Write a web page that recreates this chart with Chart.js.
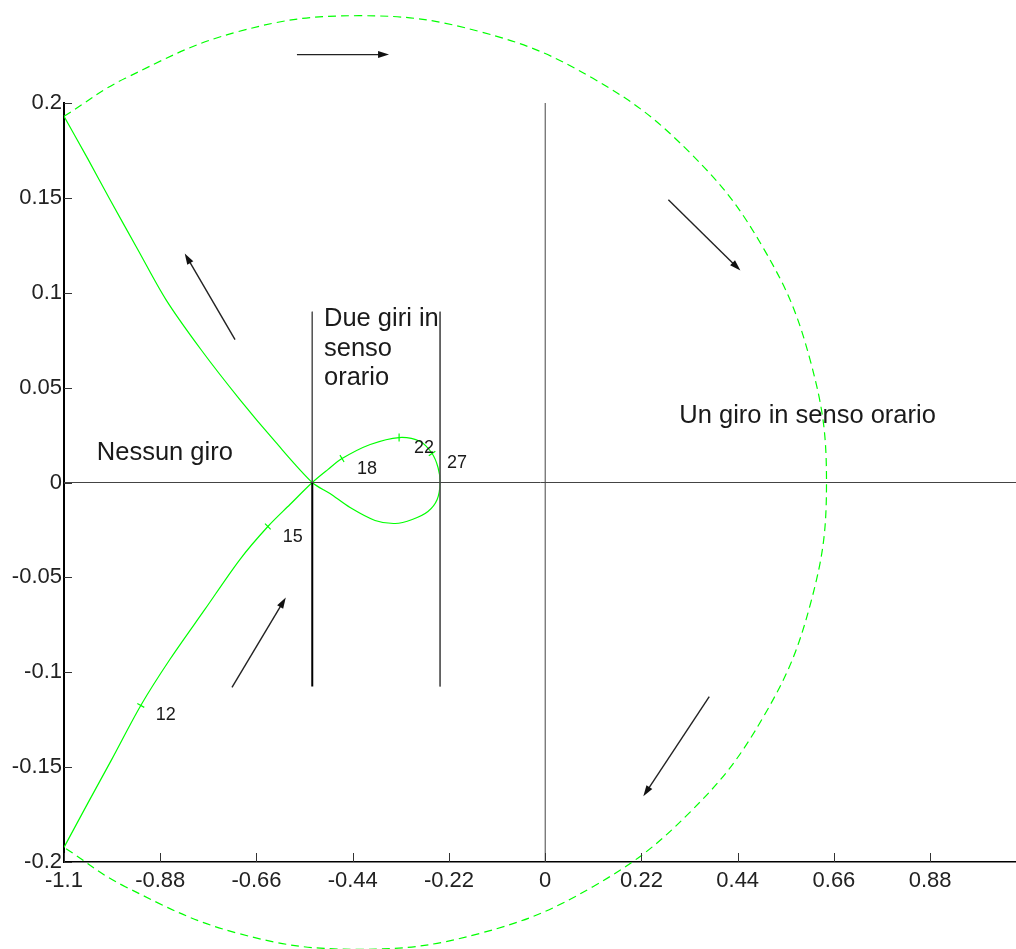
<!DOCTYPE html>
<html>
<head>
<meta charset="utf-8">
<title>Diagramma di Nyquist</title>
<script src="https://cdn.jsdelivr.net/npm/chart.js@4.4.1/dist/chart.umd.min.js"></script>
<style>
  html, body { margin: 0; padding: 0; background: #fff; overflow: hidden; width: 1016px; height: 949px; }
  canvas { display: block; }
</style>
</head>
<body>
<!-- canvas slightly wider than the window: Chart.js keeps a few px on the right, the plot runs to the edge in the original -->
<canvas id="chart" width="1022" height="949"></canvas>
<script>
// --- Axis ticks ---
const xTicks = [-1.1, -0.88, -0.66, -0.44, -0.22, 0, 0.22, 0.44, 0.66, 0.88];
const yTicks = [0.2, 0.15, 0.1, 0.05, 0, -0.05, -0.1, -0.15, -0.2];
const xMin = -1.1, xMax = 1.078, yMin = -0.2, yMax = 0.2;

// --- Nyquist curve (lower branch -> loop -> upper branch) ---
const nyqX = [-1.1, -1.0458, -0.9908, -0.9245, -0.8581, -0.778, -0.698, -0.634, -0.5835, -0.5325,
  -0.497, -0.4645, -0.400, -0.334, -0.286, -0.2586, -0.245, -0.2403, -0.247, -0.268, -0.304, -0.343, -0.389, -0.446, -0.492, -0.5325,
  -0.6156, -0.698, -0.787, -0.867, -0.9314, -0.9947, -1.0458, -1.1];
const nyqY = [-0.1923, -0.1691, -0.1459, -0.1175, -0.0933, -0.0669, -0.0406, -0.0232, -0.0116, 0,
  0.0068, 0.0126, 0.0200, 0.0237, 0.0216, 0.0153, 0.0079, 0, -0.0090, -0.0153, -0.0195, -0.0216, -0.0200, -0.0132, -0.0058, 0,
  0.0211, 0.0437, 0.0701, 0.0964, 0.1228, 0.149, 0.1707, 0.193];

// frequency marks on the curve
const markX = [-0.9245, -0.634, -0.4645, -0.334, -0.2586];
const markY = [-0.1175, -0.0232, 0.0126, 0.0237, 0.0153];
const markLabels = ['12', '15', '18', '22', '27'];

// --- closing arc at infinity (dashed) ---
const arcX = [-1.1, -0.960, -0.702, -0.4256, -0.149, 0.109, 0.330, 0.500, 0.6066, 0.643,
  0.6066, 0.500, 0.330, 0.109, -0.149, -0.4256, -0.702, -0.960, -1.1];
const arcY = [0.193, 0.213, 0.2376, 0.246, 0.2376, 0.213, 0.174, 0.123, 0.0637, 0,
  -0.0637, -0.123, -0.174, -0.213, -0.2376, -0.246, -0.2376, -0.213, -0.1923];

// --- reference lines ---
const hAxisX = [-1.1, 1.078];            // y = 0
const vAxisY = [-0.2, 0.2];              // x = 0
const leftBoundX = -0.5325, rightBoundX = -0.2403;
const boundTopY = 0.090, boundBottomY = -0.1075;

// --- arrows (from -> to) ---
const arrowFromX = [-0.5675, 0.2815, 0.375, -0.709, -0.716];
const arrowFromY = [0.2255, 0.149, -0.1128, 0.0753, -0.108];
const arrowToX = [-0.357, 0.4462, 0.2243, -0.824, -0.593];
const arrowToY = [0.2255, 0.1117, -0.1654, 0.1207, -0.0606];

// --- region notes (baseline position) ---
const noteTexts = ['Nessun giro', 'Un giro in senso orario', 'Due giri in', 'senso', 'orario'];
const noteX = [-1.025, 0.3066, -0.5057, -0.5057, -0.5057];
const noteY = [0.0116, 0.0316, 0.0824, 0.0669, 0.0516];

const FONT = 'Liberation Sans, Arial, sans-serif';
const GREEN = '#00ff00';

const pts = (xs, ys) => xs.map((v, i) => ({ x: v, y: ys[i] }));

// draw arrows with filled heads
const arrowPlugin = {
    id: 'arrows',
    afterDatasetsDraw(chart) {
        const { ctx, scales: { x, y } } = chart;
        ctx.save();
        ctx.strokeStyle = '#222';
        ctx.fillStyle = '#111';
        ctx.lineWidth = 1.4;
        for (let i = 0; i < arrowFromX.length; i++) {
            const x0 = x.getPixelForValue(arrowFromX[i]), y0 = y.getPixelForValue(arrowFromY[i]);
            const x1 = x.getPixelForValue(arrowToX[i]), y1 = y.getPixelForValue(arrowToY[i]);
            const a = Math.atan2(y1 - y0, x1 - x0);
            const L = 11, W = 3.5;
            ctx.beginPath();
            ctx.moveTo(x0, y0);
            ctx.lineTo(x1 - L * 0.6 * Math.cos(a), y1 - L * 0.6 * Math.sin(a));
            ctx.stroke();
            ctx.beginPath();
            ctx.moveTo(x1, y1);
            ctx.lineTo(x1 - L * Math.cos(a) + W * Math.sin(a), y1 - L * Math.sin(a) - W * Math.cos(a));
            ctx.lineTo(x1 - L * Math.cos(a) - W * Math.sin(a), y1 - L * Math.sin(a) + W * Math.cos(a));
            ctx.closePath();
            ctx.fill();
        }
        ctx.restore();
    }
};

// text notes and frequency labels
const textPlugin = {
    id: 'notes',
    afterDatasetsDraw(chart) {
        const { ctx, scales: { x, y } } = chart;
        ctx.save();
        ctx.fillStyle = '#1a1a1a';
        ctx.textAlign = 'left';
        ctx.textBaseline = 'alphabetic';
        ctx.font = '25.5px ' + FONT;
        noteTexts.forEach((t, i) => {
            ctx.fillText(t, x.getPixelForValue(noteX[i]), y.getPixelForValue(noteY[i]));
        });
        ctx.font = '18px ' + FONT;
        markLabels.forEach((t, i) => {
            ctx.fillText(t, x.getPixelForValue(markX[i]) + 15, y.getPixelForValue(markY[i]) + 15);
        });
        ctx.restore();
    }
};

// tick marks pointing into the plot area
const innerTicks = {
    id: 'innerTicks',
    afterDraw(chart) {
        const { ctx, chartArea: a, scales: { x, y } } = chart;
        ctx.save();
        ctx.strokeStyle = '#333';
        ctx.lineWidth = 1;
        ctx.beginPath();
        x.ticks.forEach(t => {
            const px = Math.round(x.getPixelForValue(t.value)) + 0.5;
            ctx.moveTo(px, a.bottom);
            ctx.lineTo(px, a.bottom - 9);
        });
        y.ticks.forEach(t => {
            const py = Math.round(y.getPixelForValue(t.value)) + 0.5;
            ctx.moveTo(a.left, py);
            ctx.lineTo(a.left + 8, py);
        });
        ctx.stroke();
        ctx.restore();
    }
};

const refLine = (data, color, width) => ({
    data, borderColor: color, borderWidth: width, showLine: true,
    pointRadius: 0, tension: 0, clip: false
});

new Chart(document.getElementById('chart'), {
    type: 'scatter',
    data: {
        datasets: [
            refLine(pts(hAxisX, [0, 0]), '#444', 1),
            refLine(pts([0, 0], vAxisY), '#444', 1),
            refLine(pts([leftBoundX, leftBoundX], [boundTopY, 0]), '#555', 1),
            refLine(pts([leftBoundX, leftBoundX], [0, boundBottomY]), '#000', 2),
            refLine(pts([rightBoundX, rightBoundX], [boundTopY, boundBottomY]), '#555', 1),
            {
                data: pts(arcX, arcY), borderColor: GREEN, borderWidth: 1.2,
                borderDash: [8, 5], showLine: true, pointRadius: 0, tension: 0.4, clip: false
            },
            {
                data: pts(nyqX, nyqY), borderColor: GREEN, borderWidth: 1.2,
                showLine: true, pointRadius: 0, tension: 0.3
            },
            {
                data: pts(markX, markY), showLine: false, pointStyle: 'line',
                pointRadius: 4, pointBorderColor: GREEN, pointBorderWidth: 1.2,
                pointRotation: [29, 45, 59, 90, -35]
            }
        ]
    },
    options: {
        responsive: false,
        animation: false,
        events: [],
        layout: { padding: { top: 103, right: 0, left: 0, bottom: 0 } },
        plugins: { legend: { display: false }, tooltip: { enabled: false } },
        scales: {
            x: {
                type: 'linear', min: xMin, max: xMax,
                afterBuildTicks: s => { s.ticks = xTicks.map(v => ({ value: v })); },
                afterFit: s => { s.height = 87; s.paddingLeft = 0; s.paddingRight = 0; },
                grid: { display: false, drawTicks: false, tickLength: 0 },
                border: { display: true, color: '#000', width: 1.5 },
                ticks: {
                    autoSkip: false, maxRotation: 0, padding: 6, color: '#222',
                    font: { size: 22, family: FONT }, callback: v => String(v)
                }
            },
            y: {
                type: 'linear', min: yMin, max: yMax,
                afterBuildTicks: s => { s.ticks = yTicks.map(v => ({ value: v })); },
                afterFit: s => { s.width = 64; s.paddingTop = 0; s.paddingBottom = 0; },
                grid: { display: false, drawTicks: false, tickLength: 0 },
                border: { display: true, color: '#000', width: 2 },
                ticks: {
                    autoSkip: false, padding: 2, color: '#222',
                    font: { size: 22, family: FONT }, callback: v => String(v)
                }
            }
        }
    },
    plugins: [arrowPlugin, textPlugin, innerTicks]
});
</script>
</body>
</html>
